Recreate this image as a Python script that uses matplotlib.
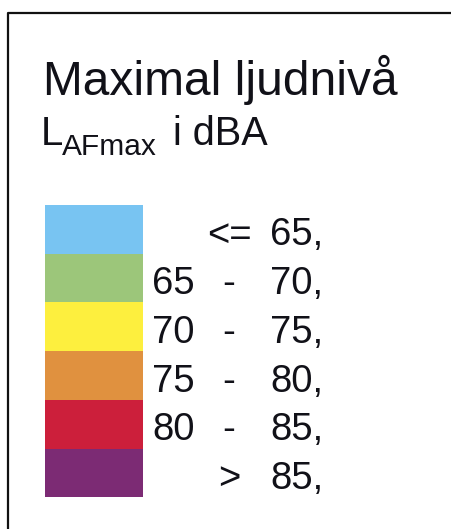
import matplotlib
matplotlib.use("Agg")
import matplotlib.pyplot as plt

# legend data
farger = ["#78C4F2", "#9CC67A", "#FDEF3E", "#E0913F", "#CC1F3B", "#7C2B74"]
fran = ["", "65", "70", "75", "80", ""]
tecken = ["<=", "-", "-", "-", "-", ">"]
till = ["65,", "70,", "75,", "80,", "85,", "85,"]

W, H = 451, 529
fig = plt.figure(figsize=(W / 100, H / 100), dpi=100)
ax = fig.add_axes([0, 0, 1, 1])
ax.set_xlim(0, W)
ax.set_ylim(H, 0)
ax.axis("off")

plt.rcParams["font.family"] = ["Liberation Sans", "DejaVu Sans"]
textfarg = "#111118"

# ram: bara vänster och övre kant
ax.plot([7.5, 7.5, W], [H, 13, 13], color="#111111", lw=1.6, solid_capstyle="butt")

# rubrik
ax.text(43, 95, "Maximal ljudnivå", fontsize=34.5, color=textfarg, va="baseline", ha="left")
ax.text(41, 145, "L", fontsize=29, color=textfarg, va="baseline", ha="left")
ax.text(62, 155, "AFmax", fontsize=21.5, color=textfarg, va="baseline", ha="left")
ax.text(173, 145, "i dBA", fontsize=28.5, color=textfarg, va="baseline", ha="left")

# färgrutor
topp = 205
steg = 48.7
for i in range(len(farger)):
    ax.bar(94, steg, width=98, bottom=topp + i * steg, color=farger[i], linewidth=0, align="center")
    bas = topp + i * steg + 40.5
    ax.text(152, bas, fran[i], fontsize=27.5, color=textfarg, va="baseline", ha="left")
    ax.text(229, bas, tecken[i], fontsize=27.5, color=textfarg, va="baseline", ha="center")
    ax.text(270, bas, till[i], fontsize=27.5, color=textfarg, va="baseline", ha="left")

fig.savefig("out.png", dpi=100, facecolor="white")
